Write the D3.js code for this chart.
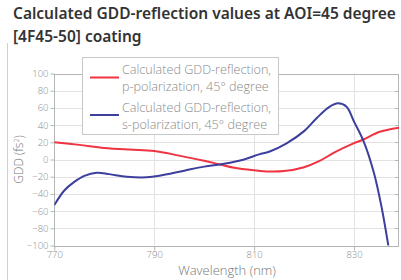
<!DOCTYPE html>
<html><head><meta charset="utf-8">
<script src="https://cdn.jsdelivr.net/npm/d3@7"></script>
<style>
html,body{margin:0;padding:0;background:#fff;}
svg{display:block;}
</style></head>
<body>
<svg id="c" width="401" height="280"></svg>
<script>
const titleLines = ["Calculated GDD-reflection values at AOI=45 degree", "[4F45-50] coating"];
const xTicks = [770, 790, 810, 830];
const yTicks = [-100, -80, -60, -40, -20, 0, 20, 40, 60, 80, 100];
const xLabel = "Wavelength (nm)";
const seriesNames = [["Calculated GDD-reflection,", "p-polarization, 45° degree"], ["Calculated GDD-reflection,", "s-polarization, 45° degree"]];
const pWave = [770, 775, 780, 785, 790, 795, 800, 803, 806, 810, 813, 816, 820, 823, 826, 830, 832, 835, 839];
const pGDD  = [20, 17, 13.5, 11.5, 10, 4.5, -1.5, -5.5, -9.5, -12.5, -14, -13.5, -9, -2, 8, 19, 23.5, 32, 37];
const sWave = [770, 772, 774, 776, 778.5, 781, 784.5, 788.5, 791, 796, 800, 804, 808, 811, 813, 816.5, 820, 822.5, 825, 826.8, 828.5, 830, 832, 834, 835.5, 837];
const sGDD  = [-53, -36, -26, -19, -15.3, -17, -20, -20.7, -19, -13, -8.3, -5, 0, 6, 9, 18.8, 33, 48, 61, 65.3, 61.4, 44, 20, -16, -55, -105];
const colors = ["#ef3340", "#3c3f9c"];

const svg = d3.select("#c");
const L = 54.3, R = 399, T = 73.5, B = 245.5;
const x = d3.scaleLinear().domain([770, 839]).range([L, R]);
const y = d3.scaleLinear().domain([-100, 100]).range([B, T]);

// card border
svg.append("line").attr("x1", 7.5).attr("x2", 7.5).attr("y1", 43).attr("y2", 280)
  .attr("stroke", "#d0d0d0").attr("stroke-width", 1);

// title
svg.append("g").selectAll("text").data(titleLines).join("text")
  .attr("x", 13).attr("y", (d, i) => 19 + i * 23)
  .attr("font-family", "Noto Sans").attr("font-weight", 600).attr("font-size", 15.5)
  .attr("fill", "#333").text(d => d);

// gridlines
const g = svg.append("g");
g.selectAll(".hg").data(yTicks).join("line")
  .attr("x1", L).attr("x2", R).attr("y1", d => Math.round(y(d)) + 0.5).attr("y2", d => Math.round(y(d)) + 0.5)
  .attr("stroke", "#e2e2e2");
g.selectAll(".vg").data(xTicks.slice(1)).join("line")
  .attr("y1", T).attr("y2", B).attr("x1", d => Math.round(x(d)) + 0.5).attr("x2", d => Math.round(x(d)) + 0.5)
  .attr("stroke", "#e2e2e2");
// frame
g.append("rect").attr("x", Math.round(L) + 0.5).attr("y", Math.round(T) + 0.5)
  .attr("width", Math.round(R) - Math.round(L) - 1).attr("height", Math.round(B) - Math.round(T))
  .attr("fill", "none").attr("stroke", "#b5b5b5");

// axes
const yAxis = d3.axisLeft(y).tickValues(yTicks).tickSize(4).tickPadding(2).tickFormat(d3.format("d"));
const ya = svg.append("g").attr("transform", `translate(${Math.round(L) + 0.5},0)`).call(yAxis);
const xAxis = d3.axisBottom(x).tickValues(xTicks).tickSize(4).tickPadding(1).tickFormat(d3.format("d"));
const xa = svg.append("g").attr("transform", `translate(0,${Math.round(B) + 0.5})`).call(xAxis);
[ya, xa].forEach(a => {
  a.select(".domain").remove();
  a.selectAll(".tick line").attr("stroke", "#b5b5b5");
  a.selectAll(".tick text").attr("fill", "#8a8a8a").attr("font-family", "Open Sans")
    .attr("font-size", 9.5).attr("font-weight", 300);
});
// right inner ticks
svg.append("g").selectAll("line").data(yTicks).join("line")
  .attr("x1", R - 4).attr("x2", R).attr("y1", d => Math.round(y(d)) + 0.5).attr("y2", d => Math.round(y(d)) + 0.5)
  .attr("stroke", "#b5b5b5");

// axis labels
svg.append("text").attr("transform", `translate(23,${(T + B) / 2}) rotate(-90)`)
  .attr("text-anchor", "middle").attr("font-family", "Open Sans").attr("font-size", 12)
  .attr("font-weight", 300).attr("fill", "#777")
  .html('GDD (fs<tspan dy="-4" font-size="7">2</tspan><tspan dy="4">)</tspan>');
svg.append("text").attr("x", 227).attr("y", 275).attr("text-anchor", "middle")
  .attr("font-family", "Open Sans").attr("font-size", 13).attr("font-weight", 300)
  .attr("fill", "#777").text(xLabel);

// lines
svg.append("clipPath").attr("id", "clip").append("rect")
  .attr("x", L).attr("y", T).attr("width", R - L).attr("height", B - T);
const line = d3.line().x(d => x(d[0])).y(d => y(d[1])).curve(d3.curveCatmullRom.alpha(0.5));
const series = [d3.zip(pWave, pGDD), d3.zip(sWave, sGDD)];
svg.append("g").attr("clip-path", "url(#clip)").selectAll("path").data(series).join("path")
  .attr("d", line).attr("fill", "none").attr("stroke", (d, i) => colors[i]).attr("stroke-width", 2);

// legend
const lg = svg.append("g");
lg.append("rect").attr("x", 82.5).attr("y", 57.5).attr("width", 196).attr("height", 77)
  .attr("fill", "#fff").attr("stroke", "#c8c8c8");
seriesNames.forEach((lines, i) => {
  const cy = 77.5 + i * 37.5;
  lg.append("line").attr("x1", 90).attr("x2", 119).attr("y1", cy).attr("y2", cy)
    .attr("stroke", colors[i]).attr("stroke-width", 2);
  lines.forEach((t, j) => {
    lg.append("text").attr("x", 122).attr("y", cy - 3.5 + j * 17)
      .attr("font-family", "Open Sans").attr("font-size", 12.6).attr("font-weight", 300)
      .attr("fill", "#8a8a8a").text(t);
  });
});
</script>
</body></html>
